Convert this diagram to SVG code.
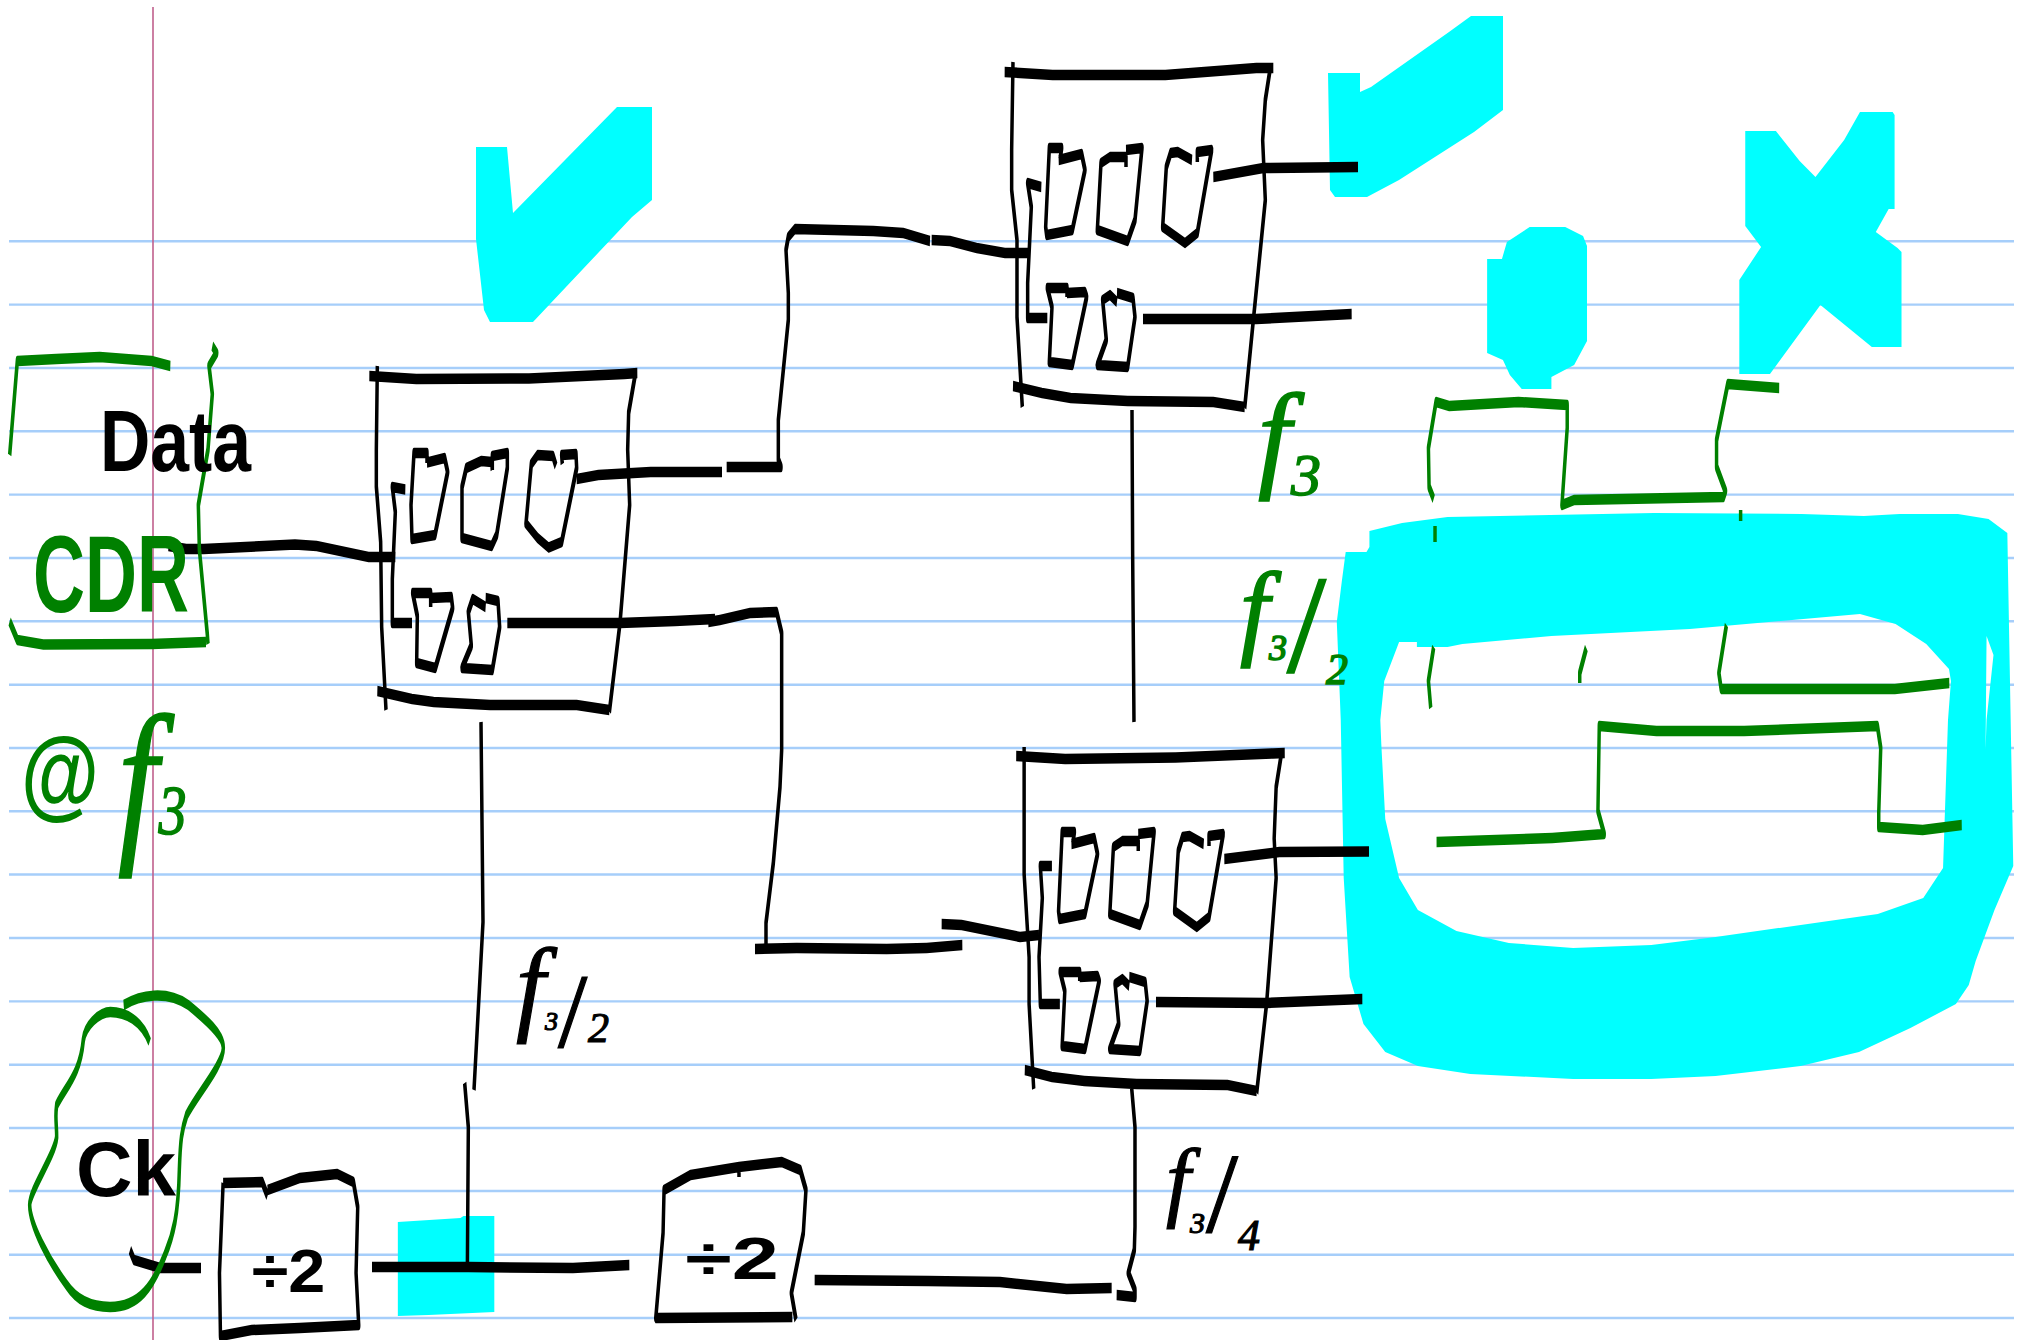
<svg xmlns="http://www.w3.org/2000/svg" width="2019" height="1340" viewBox="0 0 2019 1340">
<style>
.bg{fill:#fff}
.rule{stroke:#a6cefa;stroke-width:2.4;fill:none}
.margin{stroke:#c0608c;stroke-width:1.6;fill:none}
.hl{fill:#0ff;fill-rule:evenodd;stroke:none}
.ink{transform:scale(.33333,1)}
.k,.g,.c{fill:none;stroke-width:10.5;stroke-linejoin:round;stroke-linecap:butt}
.k,.c{stroke:#000}
.g{stroke:#008000}
.c{stroke-width:10.5}
.t{font-family:"Liberation Sans",Arial,sans-serif;font-weight:700}
.f{font-family:"Liberation Serif","Times New Roman",serif;font-style:italic;font-weight:400}
.tk{fill:#000}
.tg{fill:#008000}
.f.tk{stroke:#000;stroke-width:1.2}
.f.tg{stroke:#008000;stroke-width:1.6}
</style>
<defs>
<g id="cells">
<path class="c" d="M3176,160L3245,154 3255,170 3217,230 3140,235 3137,227 3148,148 3185,148 3180,160"/>
<path class="c" d="M3378,167L3378,157 3330,157 3303,163 3292,230 3383,241 3405,220 3426,148 3378,150"/>
<path class="c" d="M3576,160L3533,152 3512,153 3499,167 3488,227 3555,243 3592,233 3635,150 3592,152 3592,162"/>
<path class="c" d="M3201,297L3201,288 3142,288 3156,307 3148,362 3217,365 3260,297 3255,292 3201,293"/>
<path class="c" d="M3351,302L3330,295 3308,300 3319,340 3292,365 3383,367 3405,317 3399,298 3351,293"/>
</g>
</defs>
<rect class="bg" width="2019" height="1340"/>
<g id="paper">
<path class="rule" d="M9,241.2H2014M9,304.6H2014M9,368H2014M9,431.3H2014M9,494.6H2014M9,558H2014M9,621.3H2014M9,684.7H2014M9,748H2014M9,811.3H2014M9,874.5H2014M9,938H2014M9,1001.4H2014M9,1064.7H2014M9,1128H2014M9,1191H2014M9,1254.8H2014M9,1318H2014"/>
<path class="margin" d="M153,7V1340"/>
</g>
<g id="highlights">
<polygon class="hl" points="476,147 507,147 513,213 617,107 652,107 652,200 632,217 533,322 490,322 484,310 476,239"/>
<polygon class="hl" points="1328,73 1360,73 1360,92 1371,87 1449,32 1471,16 1503,16 1503,110 1474,132 1399,180 1367,197 1335,197 1330,190"/>
<g transform="translate(14.5,0) scale(.989,1)">
<polygon class="hl" points="1489,259 1504,259 1509,242 1532,227 1568,227 1586,236 1590,246 1590,341 1577,365 1554,377 1554,389 1524,389 1512,375 1505,360 1489,353"/>
<polygon class="hl" points="1750,131 1781,131 1805,161 1821,177 1850,140 1866,112 1899,112 1901,115 1901,209 1895,209 1882,232 1904,248 1908,252 1908,347 1878,347 1826,305 1775,374 1744,374 1744,280 1766,247 1750,226"/>
<path class="hl" d="M1370,531L1403,523 1449,517 1658,513 1807,514 1870,516 1906,514 1965,514 1996,519 2015,533 2021,866 2002,910 1983,961 1976,985 1963,1004 1917,1028 1865,1052 1806,1066 1720,1076 1655,1079 1576,1079 1472,1074 1419,1066 1386,1052 1364,1024 1350,977 1344,878 1341,720 1337,622 1342,582 1346,552 1367,552 1370,547ZM1400,642L1418,642 1418,647 1449,647 1464,644 1554,636 1694,629 1866,614 1902,624 1933,644 1956,669 1958,681 1955,720 1950,868 1930,898 1884,914 1720,937 1655,945 1576,948 1511,943 1458,931 1419,910 1400,878 1386,819 1382,744 1381,720 1385,681ZM1994,636L2001,655 1994,720 1993,750Z"/>
</g>
<polygon class="hl" transform="scale(.9946,1)" points="400,1222 463,1218 466,1216 497,1216 497,1312 431,1315 400,1316"/>
</g>
<g id="connectors" class="ink">
<path class="k" d="M505,546L559,549 611,549 885,544.6 950,546 1106,557 1186,557"/>
<path class="k" d="M1730,479L1795,475 1952,472 2166,472"/>
<path class="k" d="M2180,467L2343,467 2335,460 2335,420 2365,320 2365,293 2358,250 2365,237 2385,229 2620,231 2710,233 2790,241"/>
<path class="k" d="M2795,240L2850,241 2930,248 3015,253 3085,253"/>
<path class="k" d="M1522,623L1860,623 2025,621 2145,619"/>
<path class="k" d="M2125,622L2160,620 2250,613 2330,612 2345,633 2345,750 2340,787 2320,863 2298,923 2298,945"/>
<path class="k" d="M2265,949L2390,948 2660,949 2780,948 2887,945"/>
<path class="k" d="M2825,924L2885,925 3060,937 3117,935"/>
<path class="k" d="M3640,177L3790,168 4074,167"/>
<path class="k" d="M3429,319L3769,319 4055,314"/>
<path class="k" d="M3673,859L3838,852 4107,851.5"/>
<path class="k" d="M3468,1002L3800,1003 4087,999"/>
<path class="k" d="M3396,410L3398,555 3402,722"/>
<path class="k" d="M1443,722L1449,922 1422,1090"/>
<path class="k" d="M1394,1083L1405,1127 1402,1272"/>
<path class="k" d="M390,1250L402,1260 481,1268 603,1268"/>
<path class="k" d="M1116,1267L1405,1267 1719,1268 1888,1265"/>
<path class="k" d="M2444,1280L2785,1281 3000,1282 3200,1289 3335,1288"/>
<path class="k" d="M3395,1088L3405,1127 3405,1227 3403,1250 3385,1273 3405,1290 3405,1297 3350,1295"/>
</g>
<g id="cdr">
<g class="ink">
<path class="g" d="M29,455L52,361 169,359 299,357 455,361 511,366"/>
<path class="g" d="M637,346L650,353 627,366 637,394 624,449.5 595,505 598,549 622,634.5 624,644"/>
<path class="g" d="M29,621.5L52,640 130,644.5 455,644 618,642"/>
</g>
<text class="t tk" x="100" y="471" font-size="88" textLength="151" lengthAdjust="spacingAndGlyphs">Data</text>
<text class="t tg" x="33" y="612" font-size="110" textLength="156" lengthAdjust="spacingAndGlyphs">CDR</text>
<text class="t tg" transform="translate(21,0) scale(.8,1)" y="807" font-size="100">@<tspan class="f tg" x="121" y="840" font-size="180">f</tspan><tspan class="f tg" x="172" y="834" font-size="70">3</tspan></text>
</g>
<g id="block-1">
<g class="ink">
<path class="k" d="M1108,376L1249,379 1587,378.5 1873,374 1912,373"/>
<path class="k" d="M1132,366L1129,449.5 1129,486.5 1142,542 1145,627 1158,710"/>
<path class="k" d="M1906,374L1886,412.5 1883,449.5 1889,505 1860,623 1828,712"/>
<path class="k" d="M1132,691L1236,699 1301,702 1470,705 1730,705 1828,710"/>
<path class="k" d="M1216,489.5L1177,487 1186,512 1177,579 1177,623 1236,623"/>
<path class="c" d="M1281,462.5L1334,458 1343,472 1305,535 1236,539 1233,505 1242,453 1281,453 1281,463"/>
<path class="c" d="M1477,470L1475,462 1444,461 1399,468 1386,487 1386,538 1475,546 1490,535 1522,468 1522,453 1477,456 1477,470"/>
<path class="c" d="M1668,466L1659,456 1613,455 1594,464 1578,523.5 1613,538 1646,547.5 1685,542 1730,468 1728,454 1685,455 1687,464"/>
<path class="c" d="M1292,607L1292,593 1238,593 1252,616 1250,663 1306,668 1358,608 1354,597 1292,598"/>
<path class="c" d="M1457,607L1418,599 1405,612 1414,645.6 1386,668 1477,670 1499,627 1494,601 1457,598"/>
</g>
</g>
<g id="block-2">
<g class="ink">
<path class="k" d="M3014,72L3158,75 3496,75 3769,68 3820,68"/>
<path class="k" d="M3039,62L3035,150 3035,190 3051,240 3051,317 3067,407"/>
<path class="k" d="M3810,70L3796,100 3788,140 3796,200 3758,327 3734,408"/>
<path class="k" d="M3039,386L3126,393 3212,398 3383,401 3640,402 3734,407"/>
<path class="k" d="M3124,187L3083,183 3094,207 3083,283 3083,318 3142,318"/>
<use href="#cells"/>
</g>
</g>
<g id="block-3" transform="translate(7.8,0) scale(.9922,1)">
<g class="ink">
<path class="k" d="M3049,756L3197,759 3531,757.5 3825,753.5 3861,753"/>
<path class="k" d="M3073,747L3073,838.5 3073,874 3088,957 3088,1004 3102,1089"/>
<path class="k" d="M3851,753.5L3835,787 3829,838.5 3835,878 3806,1004 3776,1093"/>
<path class="k" d="M3075,1070L3157,1077 3255,1081 3413,1084 3688,1085 3776,1091"/>
<path class="k" d="M3157,866L3122,866 3128,898 3118,957 3122,1004 3181,1004"/>
<use href="#cells" transform="translate(40,684)"/>
</g>
</g>
<g id="clock">
<g class="ink" transform="scale(.9946,1)">
<path class="g" d="M371,1005C420,995 500,990 565,1005C620,1020 670,1035 670,1048C670,1065 590,1095 560,1115C545,1130 541,1140 538,1170C535,1215 520,1235 495,1255C460,1285 420,1307 330,1307C270,1307 230,1300 200,1285C145,1260 90,1225 89,1205C90,1190 165,1155 170,1137C170,1125 165,1118 170,1105C200,1085 240,1075 250,1040C255,1025 300,1012 331,1012C375,1012 425,1020 449,1042"/>
</g>
<text class="t tk" x="76" y="1196" font-size="78" textLength="100" lengthAdjust="spacingAndGlyphs">Ck</text>
</g>
<g id="div-1" transform="scale(.9946,1)">
<g class="ink">
<path class="k" d="M673,1183L791,1182 807,1196M807,1190L904,1178 1017,1174 1066,1182 1079,1207 1074,1273 1082,1325 904,1328 759,1330 665,1336 662,1273 673,1183"/>
</g>
<text class="t tk" x="253" y="1292" font-size="62" textLength="74" lengthAdjust="spacingAndGlyphs">÷2</text>
</g>
<g id="div-2" transform="scale(.9946,1)">
<g class="ink">
<path class="k" d="M2401,1320L2387,1293 2423,1233 2431,1190 2414,1170 2358,1162 2229,1167 2083,1175 2003,1190 2000,1233 1978,1318 2390,1317M2229,1167V1177"/>
</g>
<text class="t tk" x="689" y="1279" font-size="60" textLength="94" lengthAdjust="spacingAndGlyphs">÷2</text>
</g>
<g id="waveforms">
<g transform="translate(14.5,0) scale(.989,1)"><g class="ink">
<path class="g" d="M4305,499L4291,487 4289,448 4312,402 4352,406 4562,402 4710,405 4710,428 4694,505 4731,500 5184,497 5190,491 5163,467 5163,440 5197,384 5353,388"/>
<path class="g" d="M4309,526V542M5236,510V521"/>
<path class="g" d="M4305,647L4289,681 4296,708M4768,648L4748,673 4748,683"/>
<path class="g" d="M5193,625L5170,673 5177,689 5258,689 5704,689 5869,683"/>
</g></g>
<g transform="translate(7.8,0) scale(.9922,1)"><g class="ink">
<path class="g" d="M4320,842L4670,838 4827,834 4808,811 4812,726 4985,731 5250,731 5653,726 5663,748 5657,813 5657,827 5790,830 5908,825"/>
</g></g>
</g>
<g id="labels">
<text class="f tg" x="1258" y="476" font-size="118">f<tspan x="1291" y="495" font-size="60">3</tspan></text>
<text class="f tg" x="1240" y="645" font-size="105">f<tspan x="1269" y="660" font-size="36">3</tspan><tspan x="1287" y="672" font-size="140" font-style="normal">/</tspan><tspan x="1326" y="684" font-size="44">2</tspan></text>
<text class="f tk" x="516" y="1021" font-size="105">f<tspan x="545" y="1030" font-size="26">3</tspan><tspan x="558" y="1047" font-size="105" font-style="normal">/</tspan><tspan x="588" y="1042" font-size="42">2</tspan></text>
<text class="f tk" x="1166" y="1210" font-size="88">f<tspan x="1190" y="1233" font-size="30">3</tspan><tspan x="1206" y="1232" font-size="115" font-style="normal">/</tspan><tspan x="1238" y="1250" font-size="44">4</tspan></text>
</g>
</svg>
